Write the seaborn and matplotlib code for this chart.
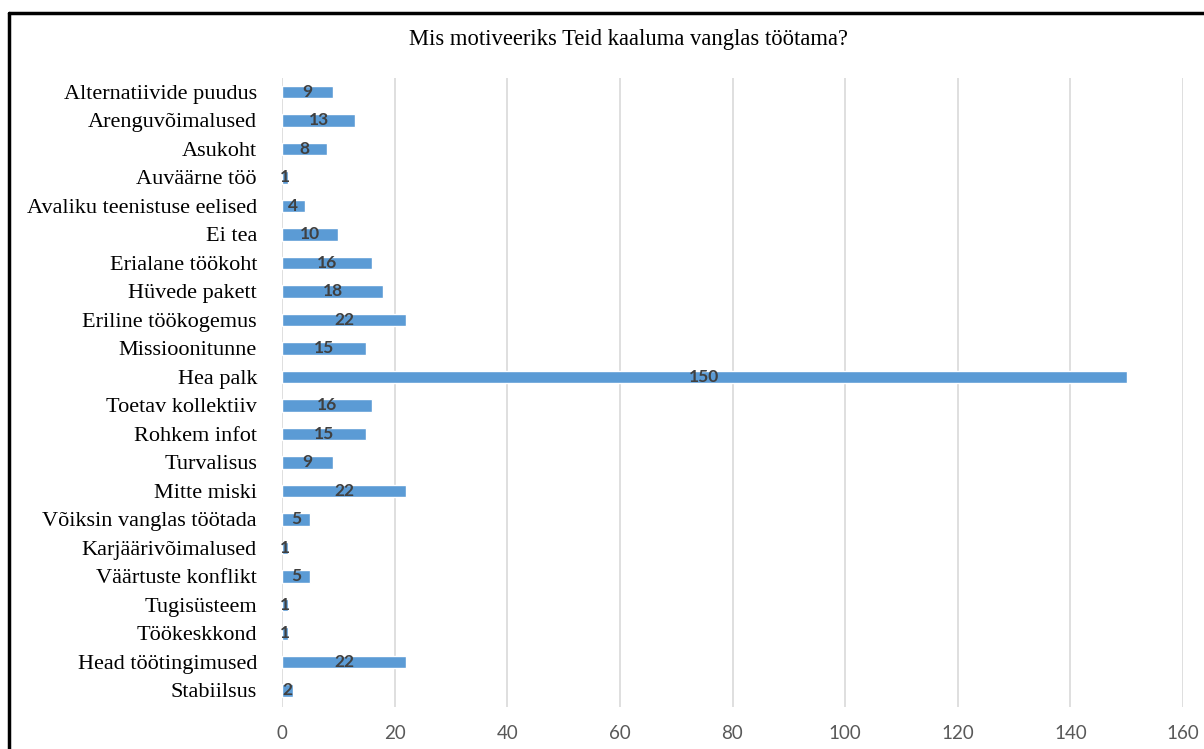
import matplotlib
matplotlib.use("Agg")
import matplotlib.pyplot as plt
import seaborn as sns
import pandas as pd
from matplotlib.lines import Line2D

# ── Data ───────────────────────────────────────────────────────────
TITLE = "Mis motiveeriks Teid kaaluma vanglas töötama?"
categories = [
    "Alternatiivide puudus", "Arenguvõimalused", "Asukoht", "Auväärne töö",
    "Avaliku teenistuse eelised", "Ei tea", "Erialane töökoht", "Hüvede pakett",
    "Eriline töökogemus", "Missioonitunne", "Hea palk", "Toetav kollektiiv",
    "Rohkem infot", "Turvalisus", "Mitte miski", "Võiksin vanglas töötada",
    "Karjäärivõimalused", "Väärtuste konflikt", "Tugisüsteem", "Töökeskkond",
    "Head töötingimused", "Stabiilsus",
]
counts = [9, 13, 8, 1, 4, 10, 16, 18, 22, 15, 150, 16, 15, 9, 22, 5, 1, 5, 1, 1, 22, 2]
xticks = [0, 20, 40, 60, 80, 100, 120, 140, 160]

BAR_COLOR = "#5B9BD5"
W, H = 1204, 749

df = pd.DataFrame({"category": categories, "count": counts})

sns.set_theme(style="white")
fig = plt.figure(figsize=(W / 100, H / 100), dpi=100)
ax = fig.add_axes([282 / W, 1 - 707 / H, (1183 - 282) / W, (707 - 78) / H])

sns.barplot(data=df, y="category", x="count", orient="h", color=BAR_COLOR,
            saturation=1, width=0.44, ax=ax)

ax.set_xlim(0, 160)
ax.set_ylim(21.58, -0.49)
ax.set_xticks(xticks)
ax.set_xlabel("")
ax.set_ylabel("")
ax.grid(axis="x", color="#D9D9D9", lw=1.2)
ax.set_axisbelow(True)
for s in ax.spines.values():
    s.set_visible(False)

ax.tick_params(axis="x", length=0, pad=13, labelsize=13.5, labelcolor="#595959")
ax.tick_params(axis="y", length=0, pad=18, labelsize=16, labelcolor="#000000")
for lbl in ax.get_xticklabels():
    lbl.set_family(["Lato", "DejaVu Sans"])
for lbl in ax.get_yticklabels():
    lbl.set_family(["Liberation Serif", "DejaVu Serif"])

# centred value labels
for cont in ax.containers:
    ax.bar_label(cont, labels=[str(v) for v in counts], label_type="center",
                 fontsize=12.5, fontweight="bold", color="#404040",
                 family=["Lato", "DejaVu Sans"])

fig.text(628 / W, 1 - 40 / H, TITLE, ha="center", va="center",
         fontsize=16.3, family=["Liberation Serif", "DejaVu Serif"], color="#000000")

# frame of the original screenshot (top and left edges only)
fig.add_artist(Line2D([9 / W, 1], [1 - 13 / H, 1 - 13 / H], color="black", lw=2.5,
                      transform=fig.transFigure))
fig.add_artist(Line2D([9 / W, 9 / W], [0, 1 - 13 / H], color="black", lw=2.5,
                      transform=fig.transFigure))

fig.savefig("out.png", dpi=100)
